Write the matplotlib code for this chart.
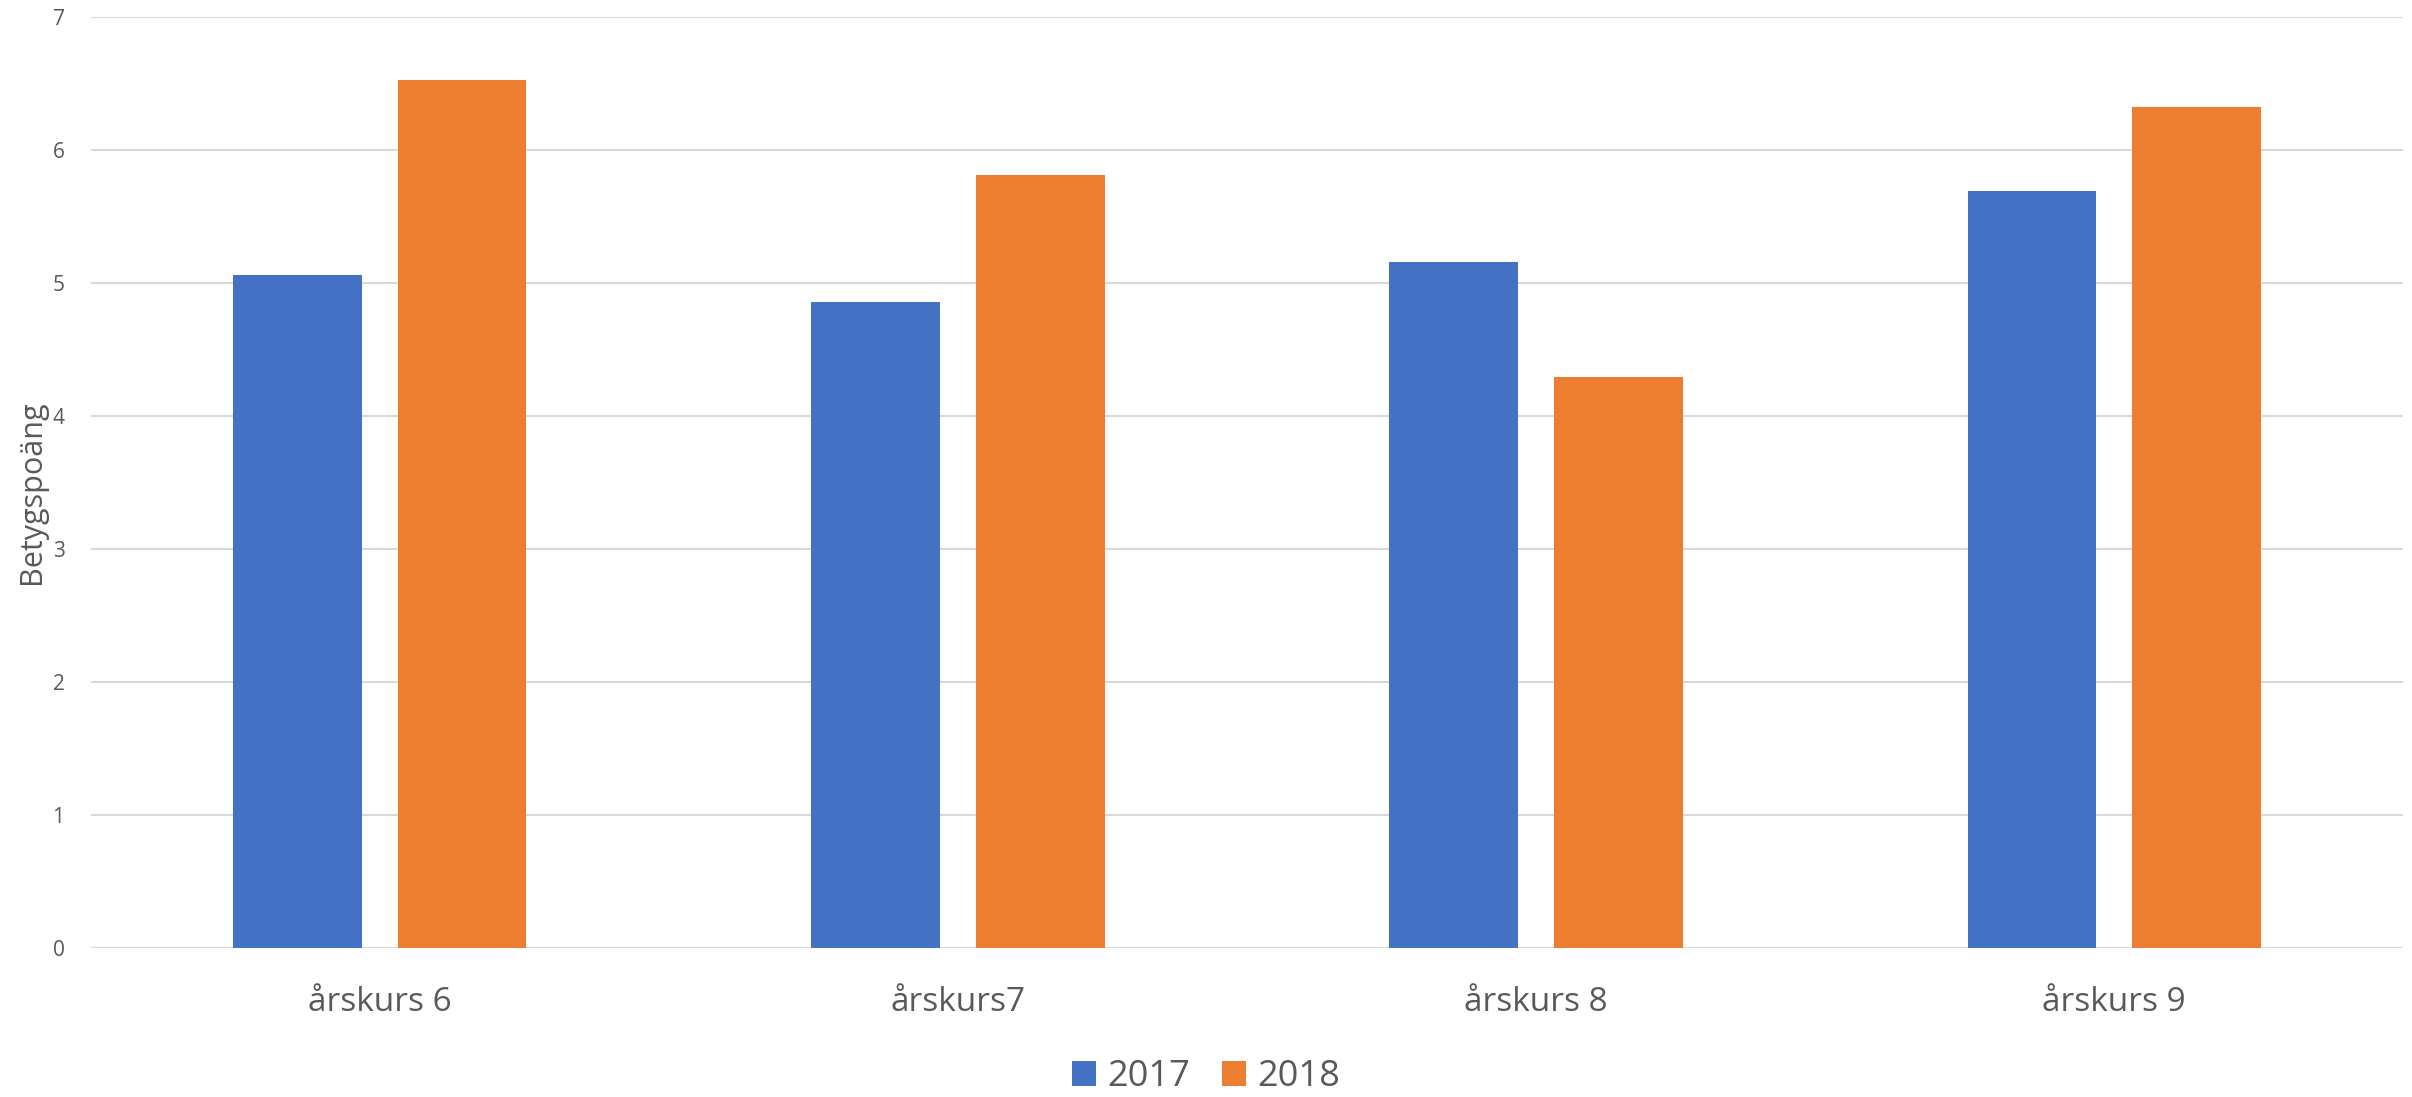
import matplotlib.pyplot as plt
import numpy as np

# Data
categories = ["årskurs 6", "årskurs7", "årskurs 8", "årskurs 9"]
years = ["2017", "2018"]
values_2017 = [5.06, 4.86, 5.16, 5.69]
values_2018 = [6.53, 5.81, 4.29, 6.32]

blue = "#4472C4"
orange = "#ED7D31"
text_color = "#595959"

plt.rcParams['font.family'] = ['Open Sans', 'DejaVu Sans']

fig = plt.figure(figsize=(24.12, 10.97), dpi=100)
ax = fig.add_axes([0.0377, 0.1358, 0.9586, 0.8487])

x = np.arange(len(categories))
width = 0.223
offset = 0.142

ax.bar(x - offset, values_2017, width, color=blue, label=years[0], zorder=3)
ax.bar(x + offset, values_2018, width, color=orange, label=years[1], zorder=3)

ax.set_xlim(-0.5, len(categories) - 0.5)
ax.set_ylim(0, 7)
ax.set_yticks(range(0, 8))

ax.grid(axis='y', color='#D9D9D9', linewidth=1.5, zorder=0)
for s in ax.spines.values():
    s.set_visible(False)

ax.set_xticks(x)
ax.set_xticklabels(categories, fontsize=24, color=text_color)
ax.tick_params(axis='x', length=0, pad=27)
ax.tick_params(axis='y', length=0, pad=19, labelsize=15, labelcolor=text_color)

ax.set_ylabel("Betygspoäng", fontsize=22, color=text_color)
ax.yaxis.set_label_coords(-0.019, 0.49)

fig.legend(loc='center', bbox_to_anchor=(0.5, 0.018), ncol=2, frameon=False,
           fontsize=26, labelcolor=text_color, handlelength=0.67, handleheight=0.67,
           handletextpad=0.3, columnspacing=0.9)

fig.savefig("out.png", dpi=100)
